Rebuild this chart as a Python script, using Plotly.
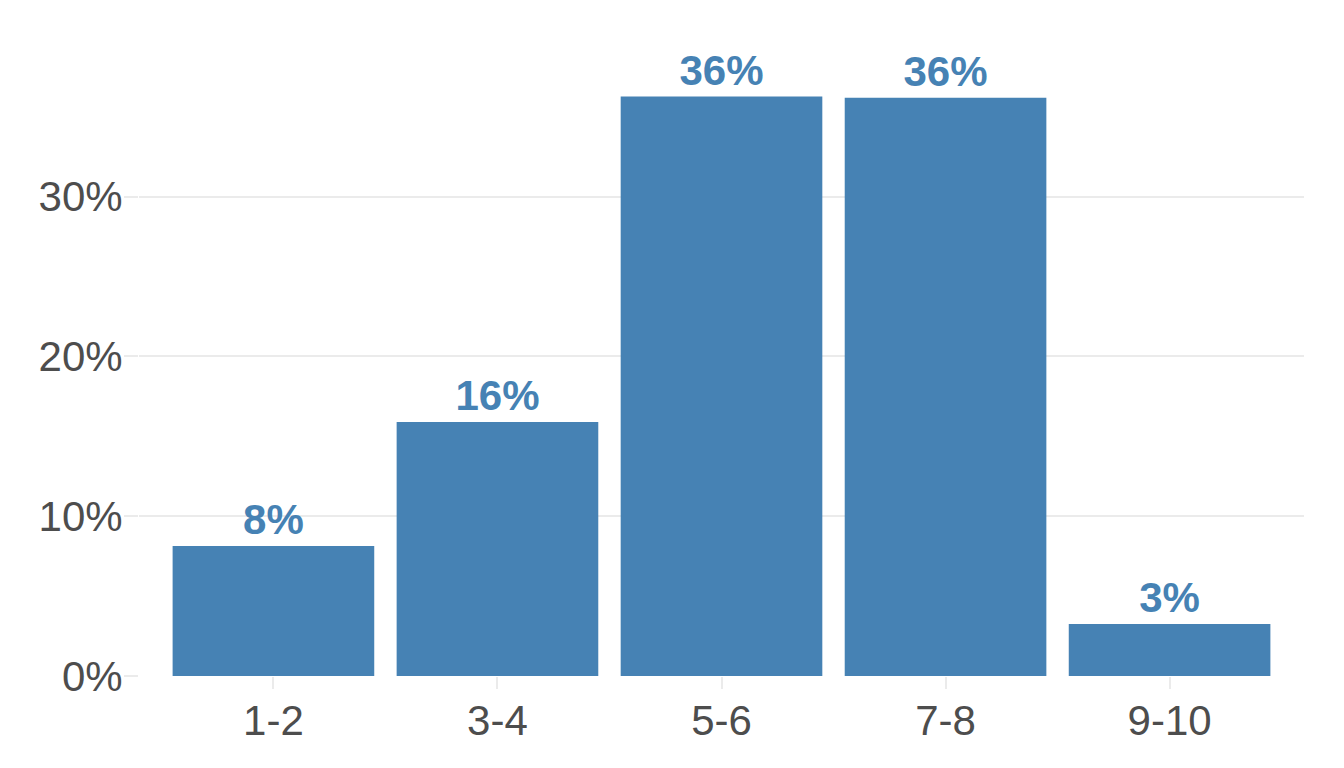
import plotly.graph_objects as go

categories = ["1-2", "3-4", "5-6", "7-8", "9-10"]
shares = [0.0814, 0.159, 0.3626, 0.3619, 0.0326]
labels = ["8%", "16%", "36%", "36%", "3%"]
y_ticks = [0, 0.1, 0.2, 0.3]
y_tick_labels = ["0%", "10%", "20%", "30%"]

BAR = "#4682B4"
GRID = "#EBEBEB"
TXT = "#4D4D4D"
FONT = "Liberation Sans, Arial, sans-serif"

fig = go.Figure(go.Bar(
    x=categories, y=shares, marker=dict(color=BAR, line=dict(width=0)),
    text=labels, textposition="outside", cliponaxis=False,
    textfont=dict(family=FONT, size=42, color=BAR, weight="bold"),
))

fig.update_layout(
    width=1344, height=768,
    margin=dict(l=131, r=48, t=32, b=100),
    plot_bgcolor="white", paper_bgcolor="white",
    bargap=0.1, showlegend=False,
    font=dict(family=FONT, size=42, color=TXT),
)
fig.update_xaxes(
    range=[-0.6, 4.6], showgrid=False, zeroline=False, showline=False,
    ticks="outside", ticklen=12, tickwidth=2, tickcolor=GRID,
    ticklabelstandoff=-4,
    tickfont=dict(family=FONT, size=42, color=TXT),
)
fig.update_yaxes(
    range=[0, 0.398], tickvals=y_ticks, ticktext=y_tick_labels,
    showgrid=True, gridcolor=GRID, gridwidth=2, zeroline=False, showline=False,
    ticks="outside", ticklen=14, tickwidth=2, tickcolor=GRID,
    ticklabelstandoff=-7,
    tickfont=dict(family=FONT, size=42, color=TXT),
)

fig.write_html("out.html")
